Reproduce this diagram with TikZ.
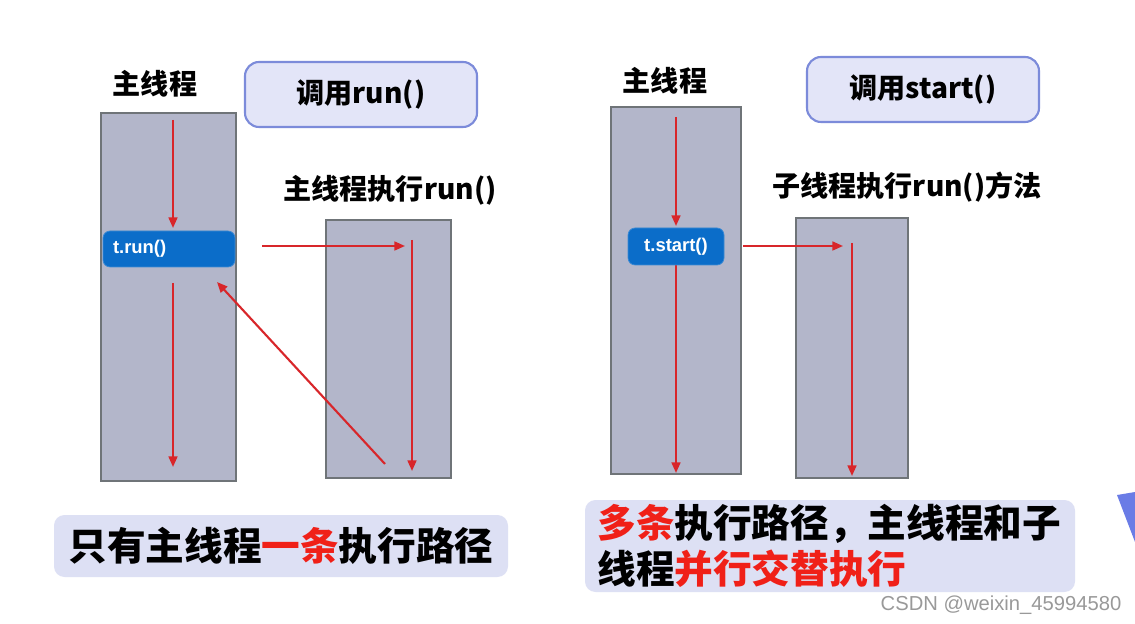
\documentclass[tikz,border=0pt]{standalone}
\usepackage{fontspec}
\setmainfont{Liberation Sans}
\newfontfamily\cjk{Noto Sans CJK SC}
\usetikzlibrary{arrows.meta}
\definecolor{thr}{HTML}{B3B6CA}
\definecolor{thrb}{HTML}{6F7478}
\definecolor{callf}{HTML}{E3E5F8}
\definecolor{callb}{HTML}{7C8BDA}
\definecolor{boxb}{HTML}{0B6DC9}
\definecolor{arr}{HTML}{D8262A}
\definecolor{noteb}{HTML}{DDE0F4}
\definecolor{tri}{HTML}{6A7CE6}
\definecolor{red2}{HTML}{F02018}
\tikzset{
  thread/.style={draw=thrb, line width=1.2pt, fill=thr, inner sep=0pt},
  callbox/.style={draw=callb, line width=1.2pt, fill=callf, rounded corners=8pt, inner sep=0pt, font=\cjk\bfseries\fontsize{16}{18}\selectfont},
  invbox/.style={fill=boxb, draw=boxb!80!white, rounded corners=4pt, text=white, inner sep=0pt, font=\bfseries\fontsize{10.5}{12}\selectfont},
  ttl/.style={font=\cjk\bfseries\fontsize{16}{18}\selectfont, inner sep=0pt},
  note/.style={fill=noteb, rounded corners=6pt, inner sep=0pt},
  flow/.style={draw=arr, line width=1.2pt, -{Triangle[length=6pt,width=5pt]}},
  big/.style={font=\cjk\bfseries\fontsize{22}{26}\selectfont, inner sep=0pt, align=left}
}
\begin{document}
\begin{tikzpicture}[x=0.02cm,y=-0.02cm]
\useasboundingbox (0,0) rectangle (1135,624);
\fill[white] (0,0) rectangle (1135,624);
% left half
\node[thread, minimum width=135*0.02cm, minimum height=368*0.02cm] (m1) at (168.5,297) {};
\node[ttl] (t1) at (155,84) {主线程};
\node[callbox, minimum width=232*0.02cm, minimum height=65*0.02cm] (c1) at (361,94.5) {调用run()};
\node[invbox, minimum width=132*0.02cm, minimum height=36*0.02cm, text width=112*0.02cm, align=left] (r1) at (169,249) {t.run()};
\node[thread, minimum width=125*0.02cm, minimum height=258*0.02cm] (s1) at (388.5,349) {};
\node[ttl] (l1) at (390,190) {主线程执行run()};
\coordinate (a1s) at (173,120);
\coordinate (a1e) at (173,228);
\coordinate (a2s) at (173,283);
\coordinate (a2e) at (173,467);
\coordinate (h1s) at (262,246);
\coordinate (h1e) at (405,246);
\coordinate (v1s) at (412,240);
\coordinate (v1e) at (412,471);
\coordinate (d1s) at (385,464);
\coordinate (d1e) at (217,282);
\draw[flow] (a1s) -- (a1e);
\draw[flow] (a2s) -- (a2e);
\draw[flow] (h1s) -- (h1e);
\draw[flow] (v1s) -- (v1e);
\draw[flow] (d1s) -- (d1e);
\node[note, minimum width=454*0.02cm, minimum height=62*0.02cm] (n1) at (281,546) {};
\node[big] (n1t) at (n1) {只有主线程\textcolor{red2}{一条}执行路径};
% right half
\node[thread, minimum width=130*0.02cm, minimum height=367*0.02cm] (m2) at (676,290.5) {};
\node[ttl] (t2) at (665,81) {主线程};
\node[callbox, minimum width=232*0.02cm, minimum height=65*0.02cm] (c2) at (923,89.5) {调用start()};
\coordinate (a3s) at (676,117);
\coordinate (a3e) at (676,226);
\coordinate (a4s) at (676,265);
\coordinate (a4e) at (676,473);
\draw[flow] (a3s) -- (a3e);
\draw[flow] (a4s) -- (a4e);
\node[invbox, minimum width=96*0.02cm, minimum height=37*0.02cm] (r2) at (676,246.5) {t.start()};
\node[thread, minimum width=112*0.02cm, minimum height=260*0.02cm] (s2) at (852,348) {};
\node[ttl] (l2) at (907,187) {子线程执行run()方法};
\coordinate (h2s) at (743,246);
\coordinate (h2e) at (843,246);
\coordinate (v2s) at (852,243);
\coordinate (v2e) at (852,476);
\draw[flow] (h2s) -- (h2e);
\draw[flow] (v2s) -- (v2e);
\node[note, minimum width=490*0.02cm, minimum height=92*0.02cm] (n2) at (830,546) {};
\node[big, anchor=west] (n2t) at (597,546) {\textcolor{red2}{多条}执行路径，主线程和子\\线程\textcolor{red2}{并行交替执行}};
\node[font=\fontsize{11.5}{13}\selectfont, text=gray!80, inner sep=0pt] (wm) at (1001,605) {CSDN @weixin\_45994580};
\fill[tri] (1117,495) -- (1135,492) -- (1135,542) -- cycle;
\end{tikzpicture}
\end{document}
